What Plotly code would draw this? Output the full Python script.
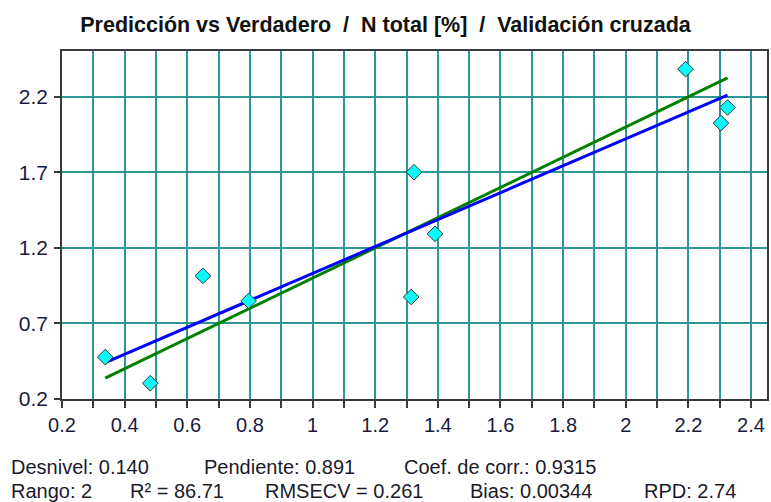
import plotly.graph_objects as go

# Data
measured = [0.338, 0.482, 0.650, 0.796, 1.315, 1.391, 1.324, 2.191, 2.325, 2.304]
predicted = [0.477, 0.304, 1.015, 0.849, 0.875, 1.293, 1.701, 2.383, 2.129, 2.026]

offset = 0.140   # Desnivel
slope = 0.891    # Pendiente

title_text = "Predicción vs Verdadero  /  N total [%]  /  Validación cruzada"
stats_line1 = [("Desnivel: 0.140", 9), ("Pendiente: 0.891", 202), ("Coef. de corr.: 0.9315", 403)]
stats_line2 = [("Rango: 2", 9), ("R² = 86.71", 128), ("RMSECV = 0.261", 264), ("Bias: 0.00344", 469), ("RPD: 2.74", 644)]

W, H = 771, 502
L, R, T, B = 62, 2, 51, 103

xmin, xmax = min(measured), max(measured)
fit_x = [xmin, xmax]
fit_y = [offset + slope * v for v in fit_x]
target_y = [xmin, xmax]

FONT = "Liberation Sans, Arial, sans-serif"
GRID = "#2a9898"
FRAME = "#3a3a3a"

fig = go.Figure()
fig.add_trace(go.Scatter(x=fit_x, y=target_y, mode="lines",
                         line=dict(color="#008000", width=3), hoverinfo="skip"))
fig.add_trace(go.Scatter(x=fit_x, y=fit_y, mode="lines",
                         line=dict(color="#0000FF", width=3), hoverinfo="skip"))
fig.add_trace(go.Scatter(x=measured, y=predicted, mode="markers",
                         marker=dict(symbol="diamond", size=12, color="#00FFFF",
                                     line=dict(color="#333333", width=1))))

fig.update_xaxes(range=[0.2, 2.451], tick0=0.2, dtick=0.2, ticks="outside", ticklen=7,
                 tickwidth=1.5, tickcolor=FRAME, showgrid=True, gridcolor=GRID, gridwidth=1.5,
                 showline=True, linecolor=FRAME, linewidth=1.5, mirror=True, zeroline=False,
                 tickfont=dict(family=FONT, size=20, color="#1a1a40"),
                 minor=dict(dtick=0.1, tick0=0.2, ticks="outside", ticklen=7, tickwidth=1.5,
                            tickcolor=FRAME, showgrid=True, gridcolor=GRID, gridwidth=1.5))
fig.update_yaxes(range=[0.2, 2.503], tick0=0.2, dtick=0.5, ticks="outside", ticklen=6,
                 tickwidth=1.5, tickcolor=FRAME, showgrid=True, gridcolor=GRID, gridwidth=1.5,
                 showline=True, linecolor=FRAME, linewidth=1.5, mirror=True, zeroline=False,
                 tickfont=dict(family=FONT, size=21, color="#1a1a40"), ticklabelstandoff=2)

annotations = []
plot_w = W - L - R
plot_h = H - T - B
for rows, py in ((stats_line1, 467), (stats_line2, 491)):
    for text, px in rows:
        annotations.append(dict(text=text, xref="paper", yref="paper",
                                x=(px - L) / plot_w, y=(H - B - py) / plot_h,
                                xanchor="left", yanchor="middle", showarrow=False,
                                font=dict(family=FONT, size=20, color="#1a1a2a")))

fig.update_layout(
    width=W, height=H, margin=dict(l=L, r=R, t=T, b=B),
    paper_bgcolor="white", plot_bgcolor="white", showlegend=False,
    title=dict(text="<b>" + title_text + "</b>", x=0.5, xanchor="center",
               y=1 - 24 / H, yanchor="middle",
               font=dict(family=FONT, size=21.5, color="#111111")),
    annotations=annotations,
)

fig.write_html("out.html", config={"displayModeBar": False},
               post_script="document.body.style.margin='0px';document.body.style.overflow='hidden';")
